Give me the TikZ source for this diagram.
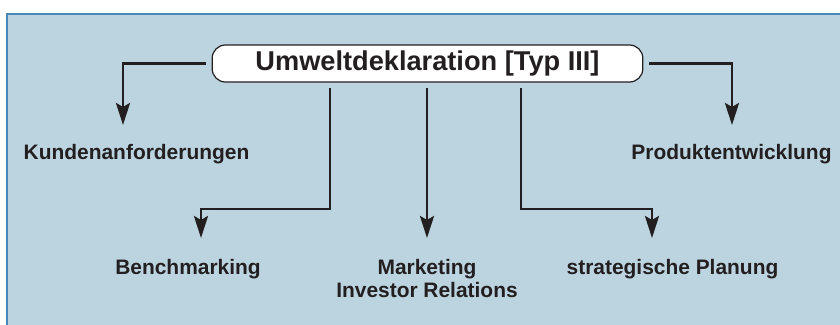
\documentclass[tikz,border=0pt]{standalone}
\usepackage{fontspec}
\setmainfont{Liberation Sans}
\usetikzlibrary{arrows.meta}
\definecolor{bgblue}{RGB}{188,212,224}
\definecolor{frameblue}{RGB}{74,136,184}
\definecolor{ink}{RGB}{35,31,32}
\tikzset{
  lbl/.style={font=\bfseries\fontsize{15.7pt}{17.25pt}\selectfont, text=ink, inner sep=0pt, anchor=base},
  ttl/.style={draw=ink, fill=white, line width=0.9pt, rounded corners=10pt,
    minimum width=323pt, minimum height=27.75pt, inner sep=0pt,
    font=\bfseries\fontsize{20.4pt}{24pt}\selectfont, text=ink},
  arr/.style={draw=ink, line width=2.2pt, -{Stealth[length=16.5pt,width=10.5pt,inset=3pt]}},
}
\begin{document}
\begin{tikzpicture}[x=0.75pt,y=-0.75pt]
\useasboundingbox (0,0) rectangle (840,325);
\clip (0,0) rectangle (840,325);
\fill[bgblue] (6,13) rectangle (850,335);
\draw[frameblue, line width=1.6pt] (7,335) -- (7,14) -- (850,14);

\node[ttl] (t) at (427.5,63.5) {Umweltdeklaration [Typ III]};

\node[lbl] (k) at (136.5,159.3) {Kundenanforderungen};
\node[lbl] (p) at (731.5,159.3) {Produktentwicklung};
\node[lbl] (b) at (188,274) {Benchmarking};
\node[lbl, align=center] (m) at (427,297) {Marketing\\Investor Relations};
\node[lbl] (s) at (672.5,274) {strategische Planung};

\coordinate (ka) at (123,125);
\coordinate (pa) at (732,125);
\coordinate (bk) at (330,209);
\coordinate (ba) at (201,238);
\coordinate (ma) at (427,238);
\coordinate (sk) at (521,209);
\coordinate (sa) at (652,238);

\draw[arr, shorten <=4.5pt] (t.west) -| (ka);
\draw[arr, shorten <=4.5pt] (t.east) -| (pa);
\draw[arr, shorten <=4pt] (t.south -| bk) -- (bk) -| (ba);
\draw[arr, shorten <=4pt] (t.south -| ma) -- (ma);
\draw[arr, shorten <=4pt] (t.south -| sk) -- (sk) -| (sa);
\end{tikzpicture}
\end{document}
